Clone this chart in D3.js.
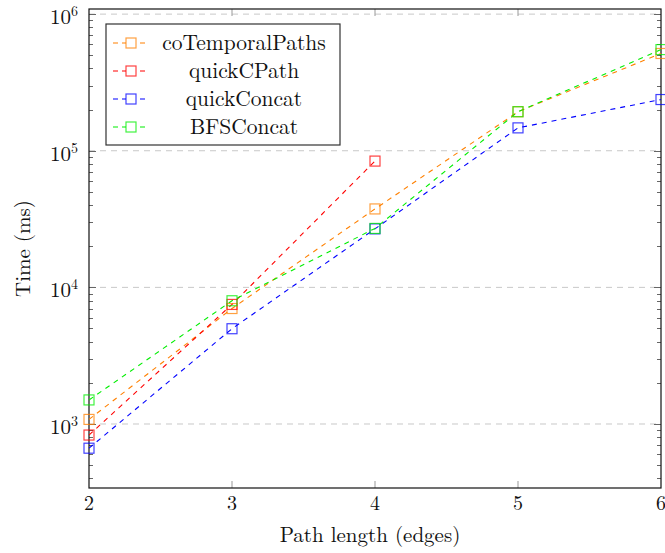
<!DOCTYPE html>
<html>
<head>
<meta charset="utf-8">
<script src="https://cdn.jsdelivr.net/npm/d3@7"></script>
<style>
  body { margin: 0; background: #fff; }
</style>
</head>
<body>
<svg width="665" height="553"></svg>
<script>
// ---- data ----
const pathLengths = [2, 3, 4, 5, 6];
const coTemporalPaths = [1080, 7000, 37500, 193000, 515000];
const quickCPath = [830, 7500, 84000];
const quickConcat = [665, 4980, 26800, 147000, 237000];
const bfsConcat = [1500, 7980, 27000, 193000, 550000];
const yTicks = [1e3, 1e4, 1e5, 1e6];
const yLimits = [340, 1.09e6];

const series = [
  { name: "coTemporalPaths", color: "#ff8000", values: coTemporalPaths },
  { name: "quickCPath", color: "#ff0000", values: quickCPath },
  { name: "quickConcat", color: "#0000ff", values: quickConcat },
  { name: "BFSConcat", color: "#00ee00", values: bfsConcat }
];

const FONT = '"Latin Modern Roman", "Liberation Serif", serif';

/* -----------------------------
   Setup
----------------------------- */
const svg = d3.select("svg").style("font-family", FONT);
const margin = { top: 9, right: 4, bottom: 65, left: 89 };
const W = 665, H = 553;
const iw = W - margin.left - margin.right;
const ih = H - margin.top - margin.bottom;

const x = d3.scaleLinear().domain([2, 6]).range([0, iw]);
const y = d3.scaleLog().domain(yLimits).range([ih, 0]);

const g = svg.append("g").attr("transform", `translate(${margin.left},${margin.top})`);

// grid lines at decades
g.selectAll(".grid")
  .data(yTicks)
  .enter()
  .append("line")
  .attr("x1", 0).attr("x2", iw)
  .attr("y1", d => y(d)).attr("y2", d => y(d))
  .attr("stroke", "#c8c8c8")
  .attr("stroke-width", 1)
  .attr("stroke-dasharray", "6,5");

// minor ticks (2..9 per decade) on left and right
const minor = [];
for (let e = 2; e <= 6; e++) {
  for (let m = 1; m <= 9; m++) {
    const v = m * Math.pow(10, e);
    if (v >= yLimits[0] && v <= yLimits[1]) minor.push({ v, major: m === 1 });
  }
}
[0, iw].forEach(side => {
  const dir = side === 0 ? 1 : -1;
  g.selectAll(null)
    .data(minor)
    .enter()
    .append("line")
    .attr("x1", side)
    .attr("x2", d => side + dir * (d.major ? 7 : 4))
    .attr("y1", d => Math.round(y(d.v)) + 0.5)
    .attr("y2", d => Math.round(y(d.v)) + 0.5)
    .attr("stroke", "#666")
    .attr("stroke-width", 1);
});

// x ticks bottom and top
[ih, 0].forEach(side => {
  const dir = side === 0 ? 1 : -1;
  g.selectAll(null)
    .data(pathLengths.slice(1, -1))
    .enter()
    .append("line")
    .attr("x1", d => x(d)).attr("x2", d => x(d))
    .attr("y1", side).attr("y2", side + dir * 7)
    .attr("stroke", "#999")
    .attr("stroke-width", 1);
});

// frame
g.append("rect")
  .attr("x", 0).attr("y", 0)
  .attr("width", iw).attr("height", ih)
  .attr("fill", "none")
  .attr("stroke", "#111")
  .attr("stroke-width", 1.2);

// x tick labels
g.selectAll(".xl")
  .data(pathLengths)
  .enter()
  .append("text")
  .attr("x", d => x(d))
  .attr("y", ih + 22)
  .attr("text-anchor", "middle")
  .style("font-size", "20px")
  .attr("fill", "#111")
  .text(d => d);

// y tick labels 10^k
const yl = g.selectAll(".yl")
  .data(yTicks)
  .enter()
  .append("text")
  .attr("x", -11)
  .attr("y", d => y(d) + 10)
  .attr("text-anchor", "end")
  .style("font-size", "21px")
  .attr("fill", "#111");
yl.append("tspan").text("10");
yl.append("tspan")
  .attr("dy", -8)
  .style("font-size", "14px")
  .text(d => Math.round(Math.log10(d)));

// axis titles
g.append("text")
  .attr("x", iw / 2 - 5)
  .attr("y", ih + 54)
  .attr("text-anchor", "middle")
  .style("font-size", "21px")
  .attr("fill", "#111")
  .text("Path length (edges)");

g.append("text")
  .attr("transform", `translate(${-59},${ih / 2}) rotate(-90)`)
  .attr("text-anchor", "middle")
  .style("font-size", "21px")
  .attr("fill", "#111")
  .text("Time (ms)");

/* -----------------------------
   Series
----------------------------- */
const line = d3.line()
  .x((d, i) => x(pathLengths[i]))
  .y(d => y(d));

series.forEach(s => {
  g.append("path")
    .datum(s.values)
    .attr("fill", "none")
    .attr("stroke", s.color)
    .attr("stroke-width", 1.1)
    .attr("stroke-dasharray", "5,5")
    .attr("d", line);
});

const ms = 10;
series.forEach(s => {
  g.selectAll(null)
    .data(s.values)
    .enter()
    .append("rect")
    .attr("x", (d, i) => x(pathLengths[i]) - ms / 2)
    .attr("y", d => y(d) - ms / 2)
    .attr("width", ms)
    .attr("height", ms)
    .attr("fill", "none")
    .attr("stroke", s.color)
    .attr("stroke-opacity", 0.75)
    .attr("stroke-width", 1.2);
});

/* -----------------------------
   Legend
----------------------------- */
const lg = svg.append("g").attr("transform", "translate(106,24)");
lg.append("rect")
  .attr("width", 234).attr("height", 121)
  .attr("fill", "#fff")
  .attr("stroke", "#333")
  .attr("stroke-width", 1.2);

series.forEach((s, i) => {
  const cy = 19 + i * 28;
  lg.append("line")
    .attr("x1", 7).attr("x2", 43)
    .attr("y1", cy).attr("y2", cy)
    .attr("stroke", s.color)
    .attr("stroke-width", 1.1)
    .attr("stroke-dasharray", "5,4");
  lg.append("rect")
    .attr("x", 25 - ms / 2).attr("y", cy - ms / 2)
    .attr("width", ms).attr("height", ms)
    .attr("fill", "#fff")
    .attr("stroke", s.color)
    .attr("stroke-opacity", 0.75)
    .attr("stroke-width", 1.2);
  lg.append("text")
    .attr("x", 138).attr("y", cy + 7)
    .attr("text-anchor", "middle")
    .style("font-size", "21.5px")
    .attr("fill", "#111")
    .text(s.name);
});
</script>
</body>
</html>
